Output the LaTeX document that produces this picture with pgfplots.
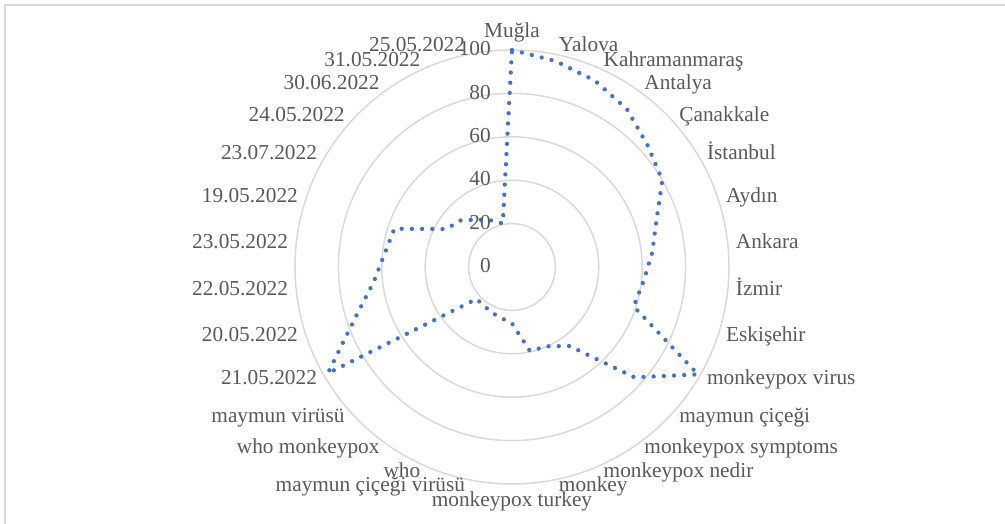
\documentclass[border=0pt]{standalone}
\usepackage{fontspec}
\setmainfont{Liberation Serif}
\usepackage{pgfplots}
\pgfplotsset{compat=1.18}
\usepgfplotslibrary{polar}
\definecolor{textgray}{HTML}{595959}
\definecolor{gridgray}{HTML}{D9D9D9}
\definecolor{lineblue}{HTML}{4472C4}
\tikzset{cat/.style={text=textgray, font=\fontsize{21.3}{24}\selectfont, inner sep=0pt, text height=14pt, text depth=4.5pt}}
\begin{document}
\begin{tikzpicture}
\path[use as bounding box] (-512pt,-257pt) rectangle (493pt,267pt);
\draw[gridgray, line width=2pt] (-507pt,-257pt) -- (-507pt,262pt) -- (493pt,262pt);
\begin{polaraxis}[
  at={(0,0)}, anchor=center,
  scale only axis, width=434pt, height=434pt,
  xmin=0, xmax=360, ymin=0, ymax=100,
  xtick={90,78,66,54,42,30,18,6,354,342,330,318,306,294,282,270,258,246,234,222,210,198,186,174,162,150,138,126,114,102},
  xticklabels={},
  ytick={0,20,40,60,80,100},
  yticklabels={},
  xmajorgrids=false, ymajorgrids=true,
  grid style={draw=gridgray, line width=1.5pt},
  axis line style={draw=none},
  major tick length=0pt,
  clip=false,
]
\addplot[lineblue, line width=4.3pt, line cap=round, dash pattern=on 0pt off 10.2pt, no marks] coordinates {
(90,100) (78,97) (66,94) (54,90) (42,84) (30,80) (18,70) (6,65) (354,61) (342,59)
(330,99) (318,76) (306,45) (294,40) (282,39.5) (270,26) (258,24) (246,23) (234,22) (222,22)
(210,98) (198,76) (186,64) (174,59) (162,57) (150,35) (138,32) (126,27) (114,23.5) (102,20.5)
(90,100)
};
\pgfplotsinvokeforeach{0,20,40,60,80,100}{
  \node[cat, anchor=east, xshift=-21pt, yshift=-1pt] at (axis cs:90,#1) {#1};
}
% category labels
\node[cat, anchor=south, shift={(90:8pt)}]  at (axis cs:90,100) {Muğla};
\node[cat, anchor=west, shift={(78:8pt)}]   at (axis cs:78,100) {Yalova};
\node[cat, anchor=west, shift={(66:8pt)}]   at (axis cs:66,100) {Kahramanmaraş};
\node[cat, anchor=west, shift={(54:8pt)}]   at (axis cs:54,100) {Antalya};
\node[cat, anchor=west, shift={(42:8pt)}]   at (axis cs:42,100) {Çanakkale};
\node[cat, anchor=west, shift={(30:8pt)}]   at (axis cs:30,100) {İstanbul};
\node[cat, anchor=west, shift={(18:8pt)}]   at (axis cs:18,100) {Aydın};
\node[cat, anchor=west, shift={(6:8pt)}]    at (axis cs:6,100) {Ankara};
\node[cat, anchor=west, shift={(354:8pt)}]  at (axis cs:354,100) {İzmir};
\node[cat, anchor=west, shift={(342:8pt)}]  at (axis cs:342,100) {Eskişehir};
\node[cat, anchor=west, shift={(330:8pt)}]  at (axis cs:330,100) {monkeypox virus};
\node[cat, anchor=west, shift={(318:8pt)}]  at (axis cs:318,100) {maymun çiçeği};
\node[cat, anchor=west, shift={(306:8pt)}]  at (axis cs:306,100) {monkeypox symptoms};
\node[cat, anchor=west, shift={(294:8pt)}]  at (axis cs:294,100) {monkeypox nedir};
\node[cat, anchor=west, shift={(282:8pt)}]  at (axis cs:282,100) {monkey};
\node[cat, anchor=north, shift={(270:8pt)}] at (axis cs:270,100) {monkeypox turkey};
\node[cat, anchor=east, shift={(258:8pt)}]  at (axis cs:258,100) {maymun çiçeği virüsü};
\node[cat, anchor=east, shift={(246:8pt)}]  at (axis cs:246,100) {who};
\node[cat, anchor=east, shift={(234:8pt)}]  at (axis cs:234,100) {who monkeypox};
\node[cat, anchor=east, shift={(222:8pt)}]  at (axis cs:222,100) {maymun virüsü};
\node[cat, anchor=east, shift={(210:8pt)}]  at (axis cs:210,100) {21.05.2022};
\node[cat, anchor=east, shift={(198:8pt)}]  at (axis cs:198,100) {20.05.2022};
\node[cat, anchor=east, shift={(186:8pt)}]  at (axis cs:186,100) {22.05.2022};
\node[cat, anchor=east, shift={(174:8pt)}]  at (axis cs:174,100) {23.05.2022};
\node[cat, anchor=east, shift={(162:8pt)}]  at (axis cs:162,100) {19.05.2022};
\node[cat, anchor=east, shift={(150:8pt)}]  at (axis cs:150,100) {23.07.2022};
\node[cat, anchor=east, shift={(138:8pt)}]  at (axis cs:138,100) {24.05.2022};
\node[cat, anchor=east, shift={(126:8pt)}]  at (axis cs:126,100) {30.06.2022};
\node[cat, anchor=east, shift={(114:8pt)}]  at (axis cs:114,100) {31.05.2022};
\node[cat, anchor=east, shift={(102:8pt)}]  at (axis cs:102,100) {25.05.2022};
\end{polaraxis}
\end{tikzpicture}
\end{document}
